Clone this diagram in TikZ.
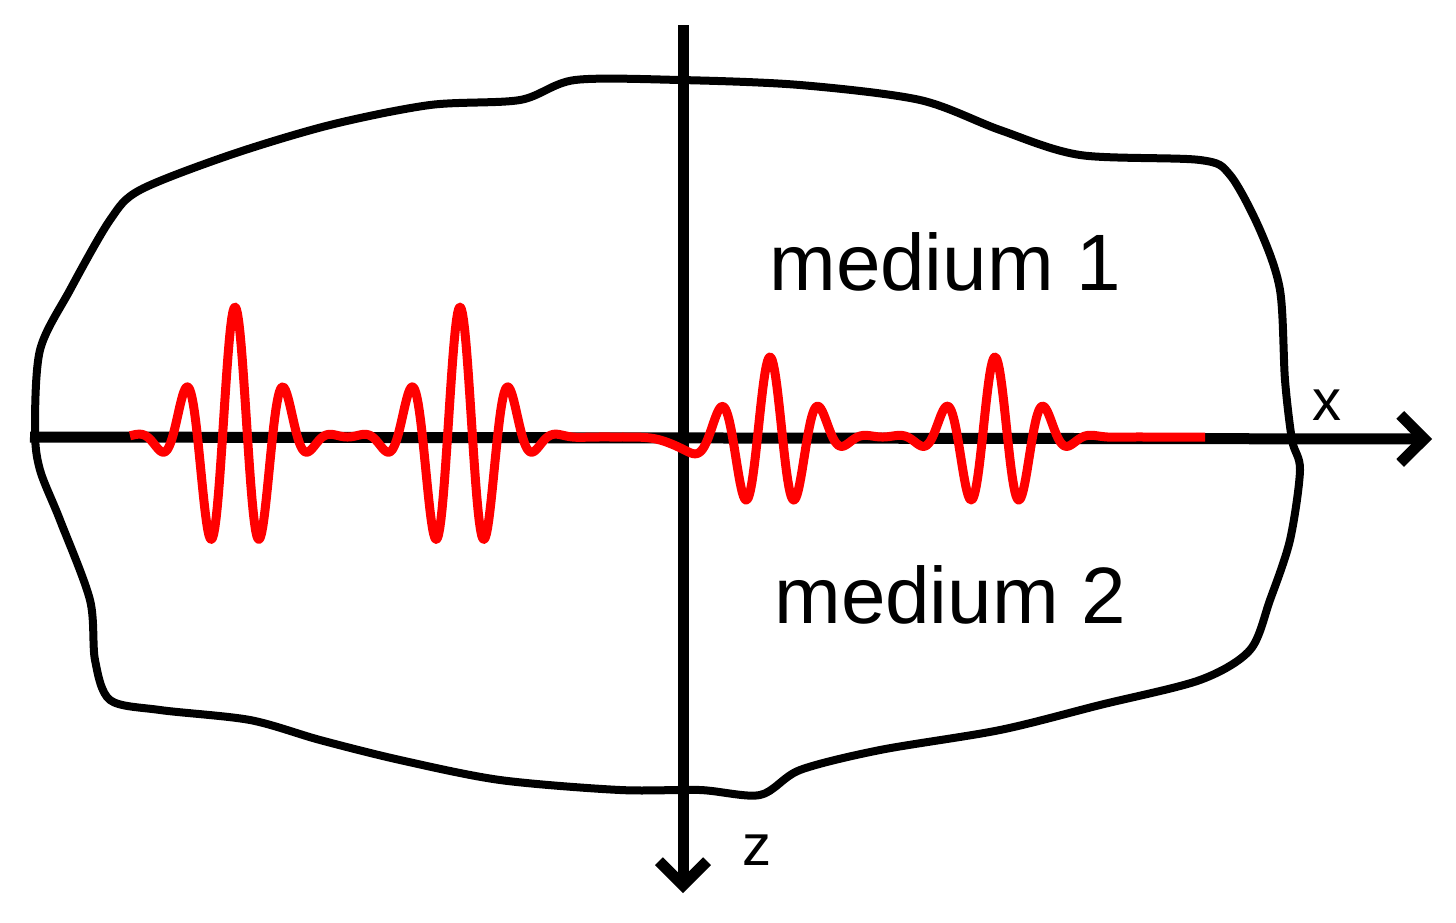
\documentclass[tikz,border=0pt]{standalone}
\usepackage{fontspec}
\setmainfont{Liberation Sans}
\usetikzlibrary{arrows.meta}
\begin{document}
\begin{tikzpicture}[x=1pt,y=-1pt,
  axis/.style={line width=11pt,-{Straight Barb[length=24pt,width=48pt,line width=11pt]}},
  lbl/.style={font=\fontsize{80}{86}\selectfont,inner sep=0pt},
  ax/.style={font=\fontsize{58}{62}\selectfont,inner sep=0pt}]
\useasboundingbox (0,0) rectangle (1456,922);
\draw[line width=8pt,line join=round] plot[smooth cycle,tension=0.5] coordinates{
(35,430) (40,350) (70,290) (110,220) (140,190) (230,155) (330,125) (430,105) (520,100) (575,80) (680,80) (800,85) (920,100) (1000,130) (1080,155) (1200,160) (1230,175) (1260,230) (1280,290) (1285,380) (1292,440) (1300,470) (1290,540) (1270,600) (1250,650) (1200,680) (1100,705) (1000,730) (880,750) (800,770) (760,795) (700,790) (620,790) (500,780) (400,760) (320,740) (250,720) (160,710) (110,700) (95,660) (90,600) (60,520) (40,470)};
\coordinate (xs) at (30,437);
\coordinate (xe) at (1432,439);
\coordinate (zs) at (683,25);
\coordinate (ze) at (683,893);
\draw[axis] (xs) -- (xe);
\draw[axis] (zs) -- (ze);
\draw[red,line width=9pt,line join=round] plot[domain=130:1205,samples=900,variable=\t]
 ({\t},{437
 -130*exp(-min(((\t-235)/50)^2,30))*cos(7.2*(\t-235))
 -130*exp(-min(((\t-460)/50)^2,30))*cos(7.2*(\t-460))
 -80*exp(-min(((\t-770)/50)^2,30))*cos(7.2*(\t-770))
 -80*exp(-min(((\t-995)/50)^2,30))*cos(7.2*(\t-995))
 +12*exp(-min(((\t-683)/20)^2,30))});
\node[lbl] (m1) at (945,262) {medium 1};
\node[lbl] (m2) at (950,595) {medium 2};
\node[ax] (x) at (1327,405) {x};
\node[ax] (z) at (757,850) {z};
\end{tikzpicture}
\end{document}
